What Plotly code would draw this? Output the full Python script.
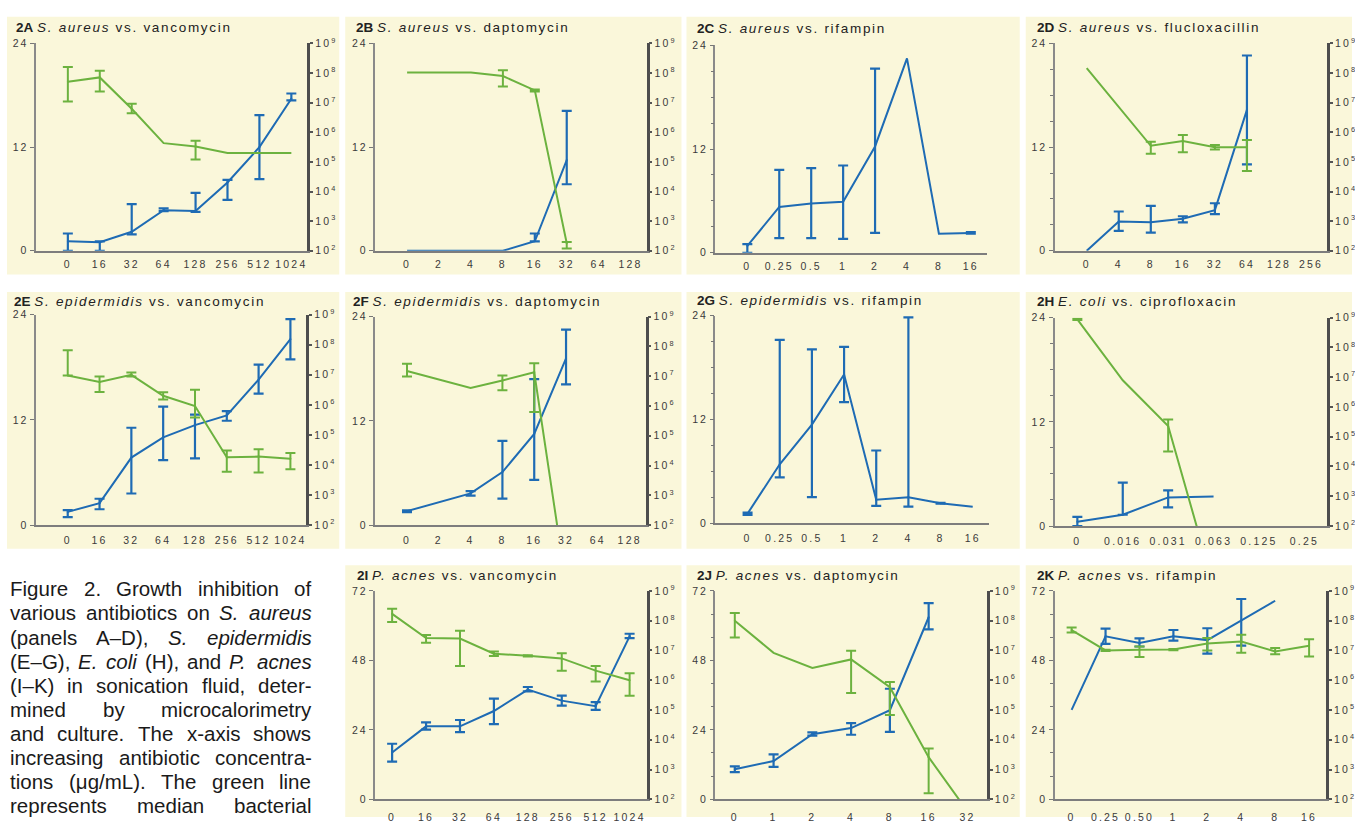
import plotly.graph_objects as go

W, H = 1355, 823
BLUE = "#1E6BB4"
GREEN = "#6CB23F"
CREAM = "#FAF7DA"
FONT = "Liberation Sans, Arial, sans-serif"

# ---------------- data ----------------
# blue = left axis (linear), green = right axis (log, CFU/mL)
A_labels = ["0", "16", "32", "64", "128", "256", "512", "1024"]
A_blue = [1.1, 1.0, 2.2, 4.7, 4.6, 7.9, 12.0, 17.6]
A_blue_hi = [2.0, 1.1, 5.4, 4.9, 6.7, 8.2, 15.7, 18.2]
A_blue_lo = [0.0, 0.0, 1.9, 4.6, 4.5, 5.9, 8.3, 17.4]
A_green = [5.1e7, 7.1e7, 6.2e6, 4.3e5, 3.3e5, 2.0e5, 2.0e5, 2.0e5]
A_green_hi = [1.6e8, 1.2e8, 9.1e6, None, 5.2e5, None, None, None]
A_green_lo = [1.1e7, 2.4e7, 4.4e6, None, 1.2e5, None, None, None]

B_labels = ["0", "2", "4", "8", "16", "32", "64", "128"]
B_blue = [0, 0, 0, 0, 1.1, 10.5, None, None]
B_blue_hi = [None, None, None, None, 2.0, 16.2, None, None]
B_blue_lo = [None, None, None, None, 1.1, 7.7, None, None]
B_green = [1.05e8, None, 1.05e8, 7.9e7, 2.6e7, 180, None, None]
B_green_hi = [None, None, None, 1.23e8, 2.8e7, 200, None, None]
B_green_lo = [None, None, None, 3.5e7, 2.4e7, 120, None, None]

C_labels = ["0", "0.25", "0.5", "1", "2", "4", "8", "16"]
C_blue = [0.8, 5.3, 5.7, 5.9, 12.3, 22.5, 2.2, 2.3]
C_blue_hi = [1.0, 9.6, 9.8, 10.1, 21.3, None, None, 2.4]
C_blue_lo = [0.0, 1.7, 1.7, 1.6, 2.3, None, None, 2.2]
C_green = [None] * 8
C_green_hi = [None] * 8
C_green_lo = [None] * 8

D_labels = ["0", "4", "8", "16", "32", "64", "128", "256"]
D_blue = [0, 3.4, 3.3, 3.7, 4.7, 16.3, None, None]
D_blue_hi = [None, 4.55, 5.2, 4.0, 5.5, 22.6, None, None]
D_blue_lo = [None, 2.3, 2.1, 3.3, 4.25, 10.0, None, None]
D_green = [1.45e8, None, 3.5e5, 5.1e5, 3.1e5, 3.1e5, None, None]
D_green_hi = [None, None, 4.8e5, 8.1e5, 3.7e5, 5.5e5, None, None]
D_green_lo = [None, None, 1.9e5, 2.1e5, 2.6e5, 4.9e4, None, None]

E_labels = ["0", "16", "32", "64", "128", "256", "512", "1024"]
E_blue = [1.5, 2.5, 7.7, 10.0, 11.4, 12.5, 16.6, 21.2]
E_blue_hi = [1.7, 3.0, 11.1, 13.5, 12.6, 13.0, 18.3, 23.5]
E_blue_lo = [0.9, 1.8, 3.6, 7.4, 7.6, 11.9, 15.0, 18.9]
E_green = [9.5e6, 5.8e6, 1.0e7, 2.0e6, 9.1e5, 1.8e4, 1.9e4, 1.6e4]
E_green_hi = [6.6e7, 8.7e6, 1.2e7, 2.6e6, 3.2e6, 3.0e4, 3.3e4, 2.5e4]
E_green_lo = [9.5e6, 2.7e6, 8.7e6, 1.5e6, 3.8e5, 5.9e3, 5.6e3, 7.2e3]

F_labels = ["0", "2", "4", "8", "16", "32", "64", "128"]
F_blue = [1.6, None, 3.65, 6.1, 10.5, 19.2, None, None]
F_blue_hi = [1.7, None, 3.9, 9.7, 16.8, 22.5, None, None]
F_blue_lo = [1.5, None, 3.4, 3.05, 5.2, 16.2, None, None]
F_green = [1.5e7, None, 4.0e6, 7.2e6, 1.35e7, 1, None, None]
F_green_hi = [2.6e7, None, None, 1.05e7, 2.7e7, None, None, None]
F_green_lo = [9.8e6, None, None, 3.4e6, 6.3e5, None, None, None]

G_labels = ["0", "0.25", "0.5", "1", "2", "4", "8", "16"]
G_blue = [1.1, 6.8, 11.4, 17.2, 2.7, 3.0, 2.3, 1.9]
G_blue_hi = [1.2, 21.2, 20.1, 20.4, 8.4, 23.8, 2.35, None]
G_blue_lo = [0.95, 5.3, 3.0, 14.0, 2.0, 1.9, 2.25, None]
G_green = [None] * 8
G_green_hi = [None] * 8
G_green_lo = [None] * 8

H_labels = ["0", "0.016", "0.031", "0.063", "0.125", "0.25"]
H_blue = [0.5, 1.3, 3.3, 3.4, None, None]
H_blue_hi = [1.05, 5.0, 4.1, None, None, None]
H_blue_lo = [0.0, 1.3, 2.15, None, None, None]
H_green = [8.7e8, 7.9e6, 2.3e5, 1, None, None]
H_green_hi = [9.1e8, None, 3.8e5, None, None, None]
H_green_lo = [8.3e8, None, 3.2e4, None, None, None]

I_labels = ["0", "16", "32", "64", "128", "256", "512", "1024"]
I_blue = [16.2, 25.2, 25.2, 30.5, 37.9, 34.1, 32.2, 56.3]
I_blue_hi = [19.2, 26.6, 27.4, 34.8, 38.8, 35.8, 33.6, 57.2]
I_blue_lo = [13.0, 24.1, 23.2, 26.0, 37.3, 32.4, 30.9, 55.7]
I_green = [1.7e8, 2.6e7, 2.5e7, 7.8e6, 6.6e6, 5.4e6, 2.1e6, 1.0e6]
I_green_hi = [2.5e8, 3.3e7, 4.6e7, 9.3e6, 6.9e6, 8.1e6, 3.0e6, 1.7e6]
I_green_lo = [9.1e7, 1.8e7, 3.0e6, 6.5e6, 6.3e6, 2.1e6, 9.1e5, 3.0e5]

J_labels = ["0", "1", "2", "4", "8", "16", "32"]
J_blue = [10.4, 13.2, 22.5, 24.6, 30.8, 62.9, None]
J_blue_hi = [11.4, 15.5, 23.1, 26.3, 38.2, 67.8, None]
J_blue_lo = [9.4, 11.2, 22.0, 22.3, 23.3, 58.7, None]
J_green = [1.0e8, 8.3e6, 2.6e6, 5.0e6, 5.8e5, 2.6e3, 40]
J_green_hi = [1.8e8, None, None, 9.8e6, 8.7e5, 5.1e3, None]
J_green_lo = [2.7e7, None, None, 3.7e5, 6.8e4, 160, None]

K_labels = ["0", "0.25", "0.50", "1", "2", "4", "8", "16"]
K_blue = [30.9, 56.3, 54.0, 56.3, 55.0, 61.9, 68.6, None]
K_blue_hi = [None, 59.0, 55.6, 58.5, 59.1, 69.2, None, None]
K_blue_lo = [None, 53.7, 52.8, 54.8, 50.3, 53.1, None, None]
K_green = [4.8e7, 1.0e7, 1.05e7, 1.07e7, 1.7e7, 2.0e7, 9.3e6, 1.45e7]
K_green_hi = [5.9e7, 1.05e7, 1.35e7, 1.12e7, 2.6e7, 3.4e7, 1.2e7, 2.4e7]
K_green_lo = [4.0e7, 0.95e7, 6.0e6, 1.02e7, 1.0e7, 8.3e6, 7.4e6, 6.3e6]

TITLES = [
    ("2A", "S. aureus", "vancomycin"),
    ("2B", "S. aureus", "daptomycin"),
    ("2C", "S. aureus", "rifampin"),
    ("2D", "S. aureus", "flucloxacillin"),
    ("2E", "S. epidermidis", "vancomycin"),
    ("2F", "S. epidermidis", "daptomycin"),
    ("2G", "S. epidermidis", "rifampin"),
    ("2H", "E. coli", "ciprofloxacin"),
    ("2I", "P. acnes", "vancomycin"),
    ("2J", "P. acnes", "daptomycin"),
    ("2K", "P. acnes", "rifampin"),
]

DATA = [
    (A_labels, A_blue, A_blue_hi, A_blue_lo, A_green, A_green_hi, A_green_lo),
    (B_labels, B_blue, B_blue_hi, B_blue_lo, B_green, B_green_hi, B_green_lo),
    (C_labels, C_blue, C_blue_hi, C_blue_lo, C_green, C_green_hi, C_green_lo),
    (D_labels, D_blue, D_blue_hi, D_blue_lo, D_green, D_green_hi, D_green_lo),
    (E_labels, E_blue, E_blue_hi, E_blue_lo, E_green, E_green_hi, E_green_lo),
    (F_labels, F_blue, F_blue_hi, F_blue_lo, F_green, F_green_hi, F_green_lo),
    (G_labels, G_blue, G_blue_hi, G_blue_lo, G_green, G_green_hi, G_green_lo),
    (H_labels, H_blue, H_blue_hi, H_blue_lo, H_green, H_green_hi, H_green_lo),
    (I_labels, I_blue, I_blue_hi, I_blue_lo, I_green, I_green_hi, I_green_lo),
    (J_labels, J_blue, J_blue_hi, J_blue_lo, J_green, J_green_hi, J_green_lo),
    (K_labels, K_blue, K_blue_hi, K_blue_lo, K_green, K_green_hi, K_green_lo),
]

CAPTION = [
    "Figure 2. Growth inhibition of",
    "various antibiotics on <i>S.</i> <i>aureus</i>",
    "(panels A–D), <i>S.</i> <i>epidermidis</i>",
    "(E–G), <i>E.</i> <i>coli</i> (H), and <i>P.</i> <i>acnes</i>",
    "(I–K) in sonication fluid, deter-",
    "mined by microcalorimetry",
    "and culture. The x-axis shows",
    "increasing antibiotic concentra-",
    "tions (μg/mL). The green line",
    "represents median bacterial",
]

# ---------------- layout geometry (pixels) ----------------
# plot box (l, r, t, b), cream box (l, r, t, b), title (x, y), x range, left max, minor dtick, label standoff
GEOM = [
    ((36, 308, 36, 247), (7, 340, 9, 271), (14, 20), [-1, 7.5], 24, None, 3),
    ((376, 648, 36, 247), (346, 683, 9, 271), (355, 20), [-1, 7.5], 24, None, 3),
    ((717, 989, 38, 249), (688, 1022, 9, 271), (697, 21), [-1, 7.5], 24, 3, 3),
    ((1057, 1330, 36, 247), (1028, 1355, 9, 271), (1037, 20), [-1, 7.5], 24, 3, 3),
    ((36, 307, 312, 526), (7, 340, 289, 550), (12, 299), [-1, 7.5], 24, None, 4),
    ((376, 647, 314, 526), (346, 683, 289, 550), (352, 299), [-1, 7.5], 24, None, 4),
    ((717, 991, 313, 524), (688, 1022, 289, 550), (697, 298), [-1, 7.5], 24, 3, 4),
    ((1057, 1330, 315, 527), (1028, 1355, 289, 550), (1037, 299), [-0.5, 5.5], 24, 3, 4),
    ((376, 648, 593, 805), (346, 683, 567, 823), (356, 577), [-0.5, 7.5], 72, None, 7),
    ((717, 989, 593, 805), (688, 1022, 567, 823), (697, 577), [-0.5, 6.5], 72, 8, 7),
    ((1057, 1329, 593, 805), (1028, 1355, 567, 823), (1037, 577), [-0.5, 7.5], 72, 8, 7),
]

TICK_SIZE = 10.5
TITLE_SIZE = 13.5


def ls(text, px, size):
    return f'<span style="letter-spacing:{px}px;font-size:{size}px">{text}</span>'


def px_x(x):
    return x / W


def px_y(y):
    return 1 - y / H


def err_parts(vals, hi, lo):
    ys, plus, minus = [], [], []
    for v, h, l in zip(vals, hi, lo):
        if v is None or h is None or l is None:
            ys.append(None); plus.append(0); minus.append(0)
        else:
            ys.append(v); plus.append(h - v); minus.append(v - l)
    return ys, plus, minus


fig = go.Figure()
shapes, annotations = [], []
layout = {}

for i, (data, geom, title) in enumerate(zip(DATA, GEOM, TITLES)):
    labels, blue, bhi, blo, green, ghi, glo = data
    (l, r, t, b), (cl, cr, ct, cb), (tx, ty), xr, ymax, minor, standoff = geom
    xid = "" if i == 0 else str(i + 1)
    yl = "" if i == 0 else str(2 * i + 1)
    yr = str(2 * i + 2)
    xref, ylref, yrref = "x" + xid, "y" + yl, "y" + yr

    shapes.append(dict(type="rect", xref="paper", yref="paper", layer="below",
                       x0=px_x(cl), x1=px_x(cr), y0=px_y(cb), y1=px_y(ct),
                       fillcolor=CREAM, line=dict(width=0)))

    # green (log, right axis)
    if any(v is not None for v in green):
        fig.add_trace(go.Scatter(x=labels, y=green, mode="lines", connectgaps=True,
                                 line=dict(color=GREEN, width=2), xaxis=xref, yaxis=yrref,
                                 hoverinfo="skip", showlegend=False))
        ys, p, m = err_parts(green, ghi, glo)
        fig.add_trace(go.Scatter(x=labels, y=ys, mode="markers", marker=dict(size=2, color=GREEN),
                                 error_y=dict(type="data", symmetric=False, array=p, arrayminus=m,
                                              color=GREEN, thickness=2, width=5),
                                 xaxis=xref, yaxis=yrref, hoverinfo="skip", showlegend=False))
    # blue (linear, left axis)
    fig.add_trace(go.Scatter(x=labels, y=blue, mode="lines", connectgaps=True,
                             line=dict(color=BLUE, width=2), xaxis=xref, yaxis=ylref,
                             hoverinfo="skip", showlegend=False))
    ys, p, m = err_parts(blue, bhi, blo)
    fig.add_trace(go.Scatter(x=labels, y=ys, mode="markers", marker=dict(size=2, color=BLUE),
                             error_y=dict(type="data", symmetric=False, array=p, arrayminus=m,
                                          color=BLUE, thickness=2.2, width=5),
                             xaxis=xref, yaxis=ylref, hoverinfo="skip", showlegend=False,
                             cliponaxis=False))

    tickfont = dict(family=FONT, size=TICK_SIZE, color="#3a3a3a")
    layout["xaxis" + xid] = dict(
        domain=[px_x(l), px_x(r)], anchor=ylref, type="category", range=xr,
        tickvals=labels, ticktext=[ls(s, 2.2, TICK_SIZE) for s in labels], tickfont=tickfont,
        ticks="", showline=True, linecolor="#7d7d7d", linewidth=2, showgrid=False,
        zeroline=False, fixedrange=True, ticklabelstandoff=standoff)
    lvals = [0, 12, 24] if ymax == 24 else [0, 24, 48, 72]
    ldict = dict(
        domain=[px_y(b), px_y(t)], anchor=xref, range=[0, ymax],
        tickvals=lvals, ticktext=[ls(str(v), 1.8, TICK_SIZE) for v in lvals],
        tickfont=tickfont, ticks="outside", ticklen=4, tickwidth=1, tickcolor="#777",
        showline=True, linecolor="#8a8a8a", linewidth=1.5, showgrid=False, zeroline=False,
        fixedrange=True)
    if minor:
        ldict["minor"] = dict(dtick=minor, ticks="outside", ticklen=3, tickwidth=1,
                              tickcolor="#777", showgrid=False)
    layout["yaxis" + yl] = ldict
    layout["yaxis" + yr] = dict(
        overlaying=ylref, side="right", anchor=xref, type="log", range=[2, 9],
        tickvals=[10 ** k for k in range(2, 10)],
        ticktext=[ls("10", 2.2, TICK_SIZE) + f"<sup>{k}</sup>" for k in range(2, 10)],
        tickfont=tickfont, ticks="outside", ticklen=3, tickwidth=1.5, tickcolor="#555",
        showline=True, linecolor="#4d4d4d", linewidth=2.5, showgrid=False, zeroline=False,
        fixedrange=True)

    code, sp, drug = title
    annotations.append(dict(
        xref="paper", yref="paper", x=px_x(tx), y=px_y(ty), xanchor="left", yanchor="middle",
        showarrow=False, font=dict(family=FONT, size=TITLE_SIZE, color="#222"),
        text=f"<b>{code}</b> " + ls(f"<i>{sp}</i> vs. {drug}", 1.7, TITLE_SIZE)))

# caption, justified with Arial/Liberation Sans advance widths
AW = {" ": 278, "(": 333, ")": 333, ",": 278, "-": 333, ".": 278, "/": 278, "–": 556, "μ": 576,
      "A": 667, "B": 667, "C": 722, "D": 722, "E": 667, "F": 611, "G": 778, "H": 722, "I": 278,
      "K": 667, "L": 556, "M": 833, "P": 667, "S": 667, "T": 611,
      "a": 556, "b": 556, "c": 500, "d": 556, "e": 556, "f": 278, "g": 556, "h": 556, "i": 222,
      "k": 500, "l": 222, "m": 833, "n": 556, "o": 556, "p": 556, "r": 333, "s": 500, "t": 278,
      "u": 556, "v": 500, "w": 722, "x": 500, "y": 500, "z": 500}
for d in "0123456789":
    AW[d] = 556
CAP_SIZE = 20.5
CAP_LEFT, CAP_RIGHT, CAP_TOP, CAP_LH = 8, 310, 591, 24.45


def plain(wd):
    return wd.replace("<i>", "").replace("</i>", "")


for li, line in enumerate(CAPTION):
    words = line.split(" ")
    widths = [sum(AW.get(c, 556) for c in plain(wd)) * CAP_SIZE / 1000 for wd in words]
    gap = (CAP_RIGHT - CAP_LEFT - sum(widths)) / (len(words) - 1)
    x = CAP_LEFT
    yy = CAP_TOP + li * CAP_LH
    for wd, wdt in zip(words, widths):
        annotations.append(dict(xref="paper", yref="paper", x=px_x(x), y=px_y(yy),
                                xanchor="left", yanchor="middle", showarrow=False,
                                font=dict(family=FONT, size=CAP_SIZE, color="#1a1a1a"),
                                text=wd))
        x += wdt + gap

fig.update_layout(
    width=W, height=H, autosize=False,
    margin=dict(l=0, r=0, t=0, b=0),
    paper_bgcolor="white", plot_bgcolor="rgba(0,0,0,0)",
    showlegend=False, shapes=shapes, annotations=annotations,
    font=dict(family=FONT),
    **layout,
)

POST = ("document.documentElement.style.margin='0';"
        "document.documentElement.style.padding='0';"
        "document.documentElement.style.overflow='hidden';"
        "document.body.style.margin='0';"
        "document.body.style.padding='0';"
        "document.body.style.overflow='hidden';")

fig.write_html("out.html", config={"displayModeBar": False}, post_script=POST)
